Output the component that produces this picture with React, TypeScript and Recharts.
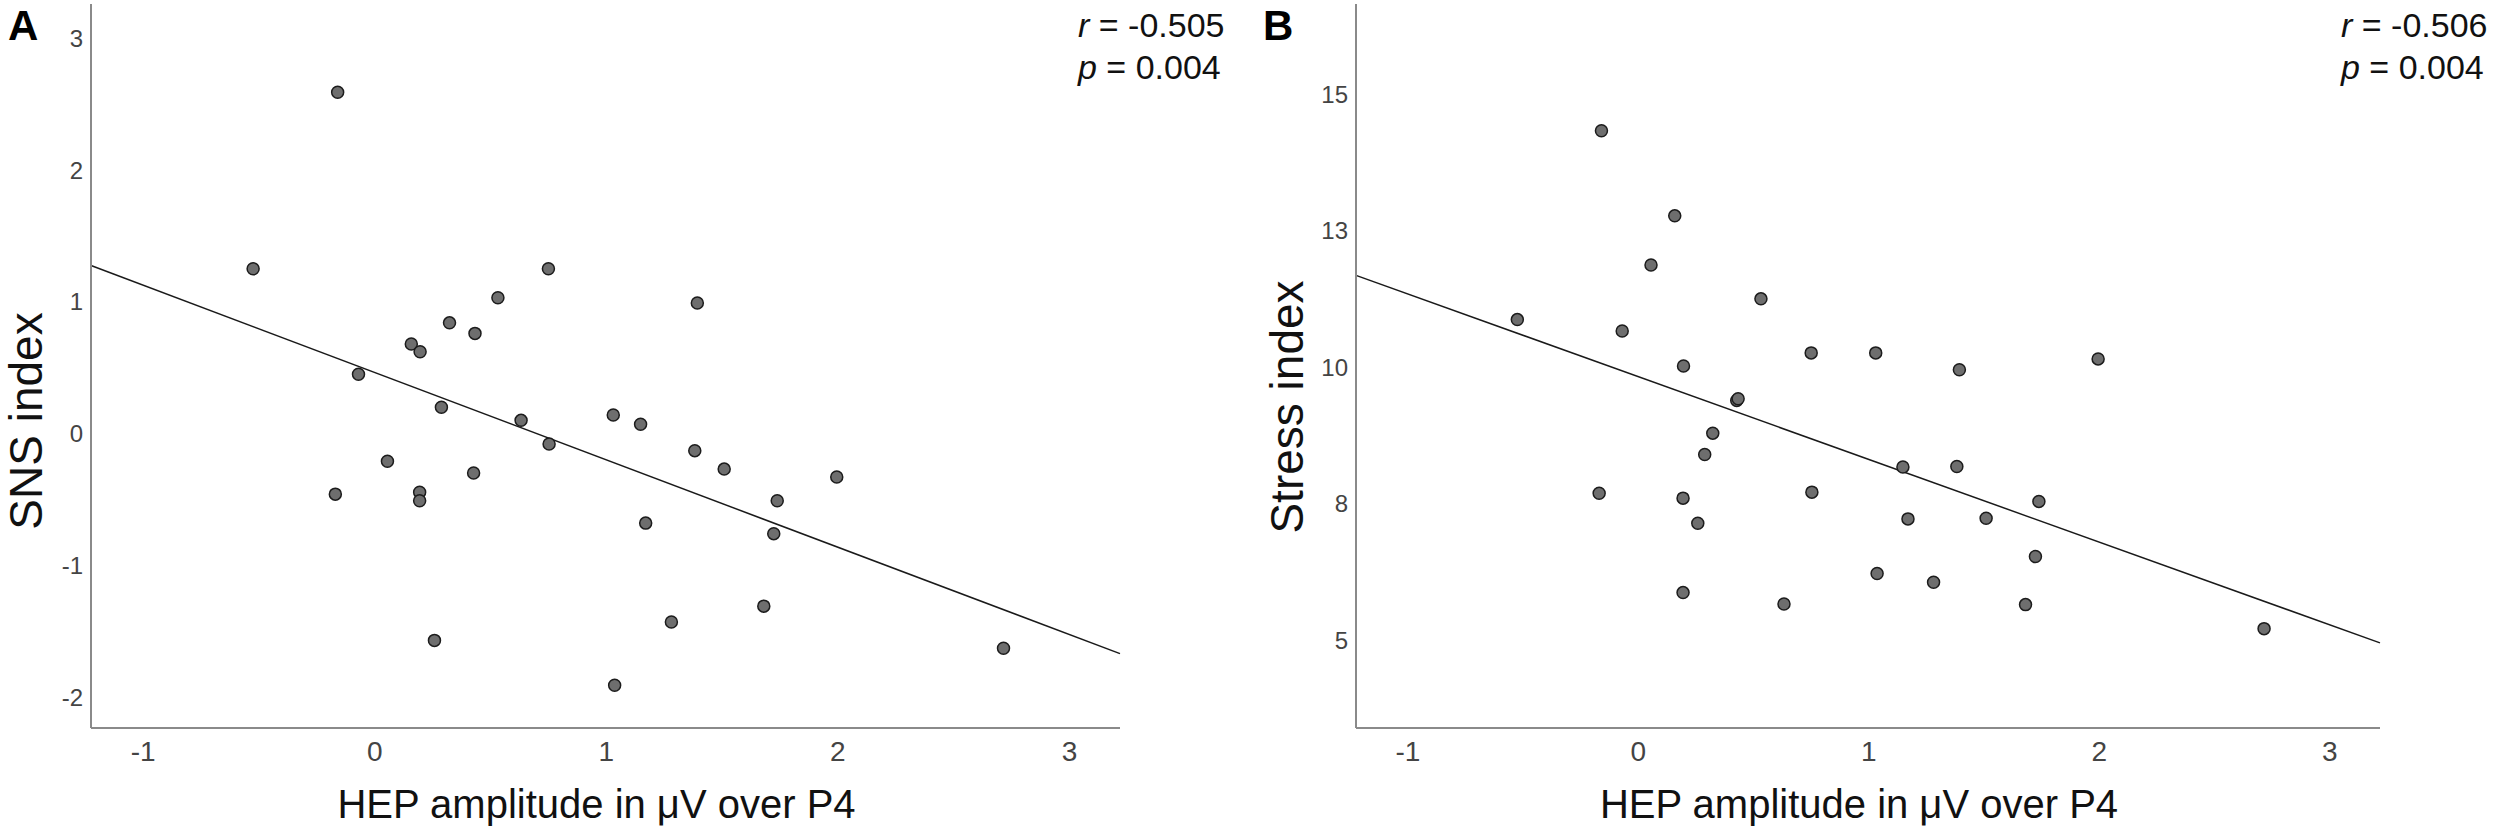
import { Label, ReferenceLine, Scatter, ScatterChart, XAxis, YAxis } from "recharts";

// HEP amplitude (µV over P4), one value per participant, shared by both panels
const hepAmplitude = [
  -0.525, -0.17, -0.16, -0.07, 0.055, 0.158, 0.194, 0.194, 0.196, 0.258, 0.288,
  0.323, 0.427, 0.433, 0.532, 0.632, 0.75, 0.753, 1.03, 1.036, 1.148, 1.17,
  1.281, 1.382, 1.393, 1.509, 1.68, 1.723, 1.738, 1.995, 2.715,
];

const snsIndex = [
  1.25, -0.46, 2.59, 0.45, -0.21, 0.68, -0.445, -0.51, 0.62, -1.57, 0.2,
  0.84, -0.3, 0.76, 1.03, 0.1, 1.25, -0.08, 0.14, -1.91, 0.07, -0.68,
  -1.43, -0.13, 0.99, -0.27, -1.31, -0.76, -0.51, -0.33, -1.63,
];

const stressIndex = [
  10.87, 7.69, 14.33, 10.66, 11.87, 12.77, 7.6, 5.87, 10.02, 7.14, 8.4,
  8.79, 9.39, 9.42, 11.25, 5.66, 10.26, 7.71, 10.26, 6.22, 8.17, 7.22,
  6.06, 8.18, 9.95, 7.23, 5.65, 6.53, 7.54, 10.15, 5.21,
];

const xTicks = [-1, 0, 1, 2, 3];
const snsTicks = [-2, -1, 0, 1, 2, 3];
const stressTicks = [5, 7.5, 10, 12.5, 15];

// linear fit lines as drawn: intercept, slope
const snsFit = { intercept: 0.463, slope: -0.663 };
const stressFit = { intercept: 9.824, slope: -1.515 };

const X_DOMAIN: [number, number] = [-1.225, 3.218];
const NARROW = "'Liberation Sans Narrow', 'Arial Narrow', 'Liberation Sans', sans-serif";
const SANS = "'Liberation Sans', Arial, sans-serif";

const Dot = (props: any) => (
  <circle cx={props.cx} cy={props.cy} r={6} fill="#6e6e6e" stroke="#1c1c1c" strokeWidth={1.5} />
);

interface PanelProps {
  left: number;
  axisX: number;
  values: number[];
  yDomain: [number, number];
  yTicks: number[];
  yTitle: string;
  yTitleX: number;
  yTitleY: number;
  fit: { intercept: number; slope: number };
  letter: string;
  letterX: number;
  statX: number;
  r: string;
  p: string;
}

function Panel(props: PanelProps) {
  const { left, axisX, values, yDomain, yTicks, yTitle, yTitleX, yTitleY, fit } = props;
  const points = hepAmplitude.map((x, i) => ({ x, y: values[i] }));
  const fitLine = X_DOMAIN.map((x) => ({ x, y: fit.intercept + fit.slope * x }));
  const rightEdge = left === 0 ? 1120 : 2380;

  return (
    <div style={{ position: "absolute", left, top: 0, width: 1250, height: 834 }}>
      <ScatterChart
        width={1250}
        height={834}
        margin={{ top: 4, right: 1250 - (rightEdge - left), bottom: 0, left: 0 }}
      >
        <XAxis
          type="number"
          dataKey="x"
          domain={X_DOMAIN}
          ticks={xTicks}
          height={106}
          tickLine={false}
          tickSize={0}
          tickMargin={13}
          axisLine={{ stroke: "#8a8a8a", strokeWidth: 2 }}
          tick={{ fontSize: 28, fill: "#444", fontFamily: NARROW }}
        >
          <Label
            content={({ viewBox }: any) => (
              <text
                x={viewBox.x + viewBox.width / 2 - 9}
                y={viewBox.y + 90}
                textAnchor="middle"
                fontSize={40}
                fontFamily={SANS}
                fill="#111"
              >
                HEP amplitude in μV over P4
              </text>
            )}
          />
        </XAxis>
        <YAxis
          type="number"
          dataKey="y"
          domain={yDomain}
          ticks={yTicks}
          width={axisX - left}
          tickLine={false}
          tickSize={0}
          tickMargin={8}
          tickFormatter={(v: number) => String(Math.round(v))}
          axisLine={{ stroke: "#8a8a8a", strokeWidth: 2 }}
          tick={{ fontSize: 24, fill: "#444", fontFamily: NARROW }}
        >
          <Label
            content={() => (
              <text
                x={yTitleX}
                y={yTitleY}
                transform={`rotate(-90, ${yTitleX}, ${yTitleY})`}
                textAnchor="middle"
                fontSize={46}
                fontFamily={SANS}
                fill="#111"
              >
                {yTitle}
              </text>
            )}
          />
        </YAxis>
        <ReferenceLine
          segment={fitLine}
          stroke="#1a1a1a"
          strokeWidth={1.5}
          ifOverflow="visible"
        />
        <Scatter data={points} shape={Dot} isAnimationActive={false} />
      </ScatterChart>
      <div
        style={{
          position: "absolute",
          left: props.letterX,
          top: 2,
          fontFamily: SANS,
          fontWeight: 700,
          fontSize: 42,
          lineHeight: "48px",
        }}
      >
        {props.letter}
      </div>
      <div
        style={{
          position: "absolute",
          left: props.statX,
          top: 4,
          fontFamily: SANS,
          fontSize: 34,
          lineHeight: "42px",
          color: "#111",
          whiteSpace: "nowrap",
        }}
      >
        <div>
          <i>r</i> = {props.r}
        </div>
        <div>
          <i>p</i> = {props.p}
        </div>
      </div>
    </div>
  );
}

export default function App() {
  return (
    <div
      style={{
        position: "absolute",
        left: 0,
        top: 0,
        width: 2500,
        height: 834,
        background: "#fff",
        overflow: "hidden",
      }}
    >
      <Panel
        left={0}
        axisX={91}
        values={snsIndex}
        yDomain={[-2.235, 3.26]}
        yTicks={snsTicks}
        yTitle="SNS index"
        yTitleX={42}
        yTitleY={421}
        fit={snsFit}
        letter="A"
        letterX={8}
        statX={1078}
        r="-0.505"
        p="0.004"
      />
      <Panel
        left={1250}
        axisX={1356}
        values={stressIndex}
        yDomain={[3.39, 16.65]}
        yTicks={stressTicks}
        yTitle="Stress index"
        yTitleX={53}
        yTitleY={407}
        fit={stressFit}
        letter="B"
        letterX={13}
        statX={1091}
        r="-0.506"
        p="0.004"
      />
    </div>
  );
}
